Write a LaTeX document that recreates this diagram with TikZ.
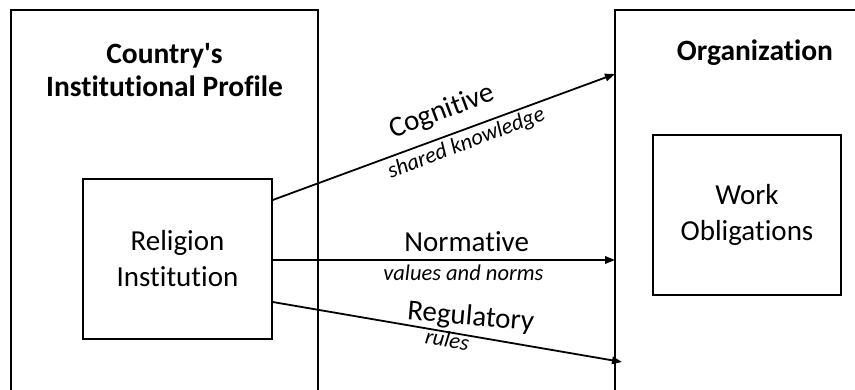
\documentclass[tikz,border=0pt]{standalone}
\usepackage{fontspec}
\setmainfont{Carlito}[Ligatures={NoCommon,NoContextual}]
\usetikzlibrary{arrows.meta}
\begin{document}
\begin{tikzpicture}[x=1pt,y=-1pt,
  frame/.style={line width=1.4pt},
  innerbox/.style={draw,line width=1.4pt,minimum width=189pt,minimum height=160pt,
    align=center,inner sep=0pt,font=\fontsize{29}{36}\selectfont},
  title/.style={align=center,font=\fontsize{29.5}{33}\selectfont\bfseries},
  flow/.style={line width=1.8pt,-{Triangle[length=10pt,width=7.5pt]}},
  biglab/.style={anchor=base,inner sep=0pt,font=\fontsize{29}{34}\selectfont},
  smalllab/.style={anchor=base,inner sep=0pt,font=\fontsize{22.5}{27}\selectfont\itshape}]
\useasboundingbox (0,0) rectangle (855,390);
% outer containers (cut off by the page)
\draw[frame] (11,390) -- (11,10) -- (318,10) -- (318,390);
\draw[frame] (615,390) -- (615,10) -- (855,10);
% titles
\node[title] (country) at (164.5,70) {Country\textquotesingle s\\Institutional Profile};
\node[title,anchor=base] (org) at (755,61) {Organization};
% inner boxes
\node[innerbox] (rel) at (177.5,259) {Religion\\Institution};
\node[innerbox,minimum width=188pt] (work) at (747,215) {Work\\Obligations};
% arrow end points on the organization frame
\coordinate (cogEnd) at (615,74);
\coordinate (norEnd) at (615,260);
\coordinate (regEnd) at (622,362);
% connectors
\draw[flow] ([yshift=59pt]rel.east) -- (cogEnd);
\draw[flow] ([yshift=-1pt]rel.east) -- (norEnd);
\draw[flow] ([yshift=-43pt]rel.east) -- (regEnd);
% labels
\node[biglab,rotate=20.5] (cogL) at (444.5,119) {Cognitive};
\node[smalllab,rotate=21] (cogS) at (468.5,149) {shared knowledge};
\node[biglab] (norL) at (466.7,251.7) {Normative};
\node[smalllab] (norS) at (463.3,280.7) {values and norms};
\node[biglab,rotate=-5] (regL) at (470,325) {Regulatory};
\node[smalllab,rotate=-10] (regS) at (446,347) {rules};
\end{tikzpicture}
\end{document}
